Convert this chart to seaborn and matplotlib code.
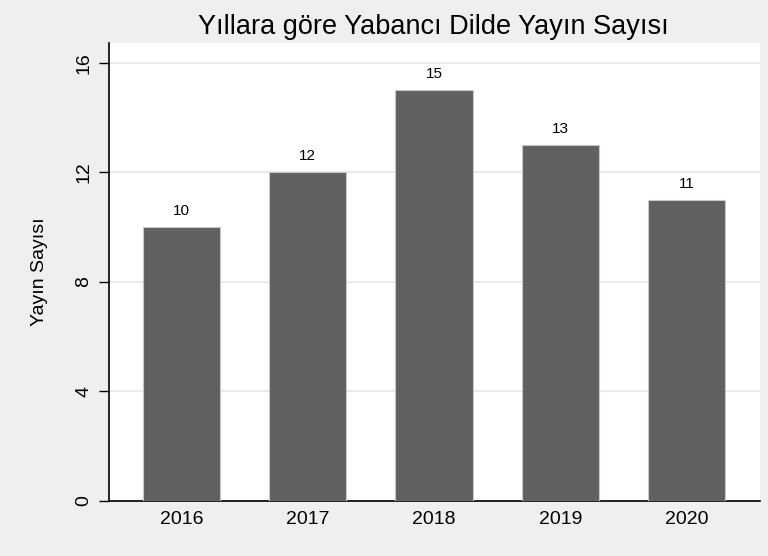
import matplotlib
matplotlib.use("Agg")
import matplotlib.pyplot as plt
import seaborn as sns
import pandas as pd

years = ["2016", "2017", "2018", "2019", "2020"]
counts = [10, 12, 15, 13, 11]
yticks = [0, 4, 8, 12, 16]

sns.set_theme(style="white")
plt.rcParams['font.family'] = ['Liberation Sans', 'DejaVu Sans']

df = pd.DataFrame({"year": years, "count": counts})

fig = plt.figure(figsize=(7.68, 5.56), dpi=100, facecolor="#efefef")
ax = fig.add_axes([109/768, 1 - 501/556, (760-109)/768, (501-43)/556])
ax.set_facecolor("white")

sns.barplot(data=df, x="year", y="count", color="#606060", width=0.61,
            saturation=1, edgecolor="#c8c8c8", linewidth=0.8, ax=ax, zorder=3)

for i, v in enumerate(counts):
    ax.text(i, v + 0.33, str(v), ha="center", va="bottom", fontsize=11, color="black")

ax.set_ylim(0, 16.73)
ax.set_xlim(-0.574, 4.582)
ax.set_yticks(yticks)
ax.set_yticklabels([str(t) for t in yticks], rotation=90, va="center", fontsize=14, color="black")
ax.tick_params(axis="x", labelsize=14, labelcolor="black", length=0, pad=7)
ax.tick_params(axis="y", length=7, width=1, color="black", direction="out", pad=5, left=True)
ax.grid(axis="y", color="#e6e6e6", linewidth=1.2, zorder=0)
ax.set_axisbelow(True)

for s in ["top", "right"]:
    ax.spines[s].set_visible(False)
for s in ["left", "bottom"]:
    ax.spines[s].set_color("black")
    ax.spines[s].set_linewidth(1.2)

ax.set_xlabel("")
ax.set_ylabel("Yayın Sayısı", fontsize=14, color="black", labelpad=20)
fig.text(433/768, 1 - 27/556, "Yıllara göre Yabancı Dilde Yayın Sayısı", ha="center", va="center",
         fontsize=19.5, color="black")

fig.savefig("out.png", dpi=100, facecolor=fig.get_facecolor())
